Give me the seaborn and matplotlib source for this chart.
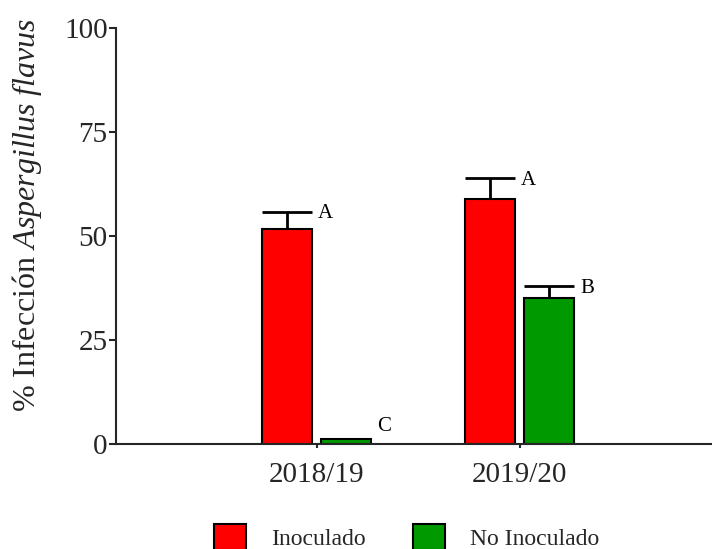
import matplotlib
matplotlib.use("Agg")
import matplotlib.pyplot as plt
import seaborn as sns
import pandas as pd

# Data
seasons = ["2018/19", "2019/20"]
treatments = ["Inoculado", "No Inoculado"]
inoculado = [51.6, 58.8]
inoculado_err = [4.2, 5.1]
no_inoculado = [1.1, 35.1]
no_inoculado_err = [0.0, 2.8]
letters_inoculado = ["A", "A"]
letters_no_inoculado = ["C", "B"]

df = pd.DataFrame({
    "Temporada": seasons * 2,
    "Tratamiento": [treatments[0]] * 2 + [treatments[1]] * 2,
    "Infeccion": inoculado + no_inoculado,
})
errs = [inoculado_err, no_inoculado_err]
letters = [letters_inoculado, letters_no_inoculado]

sns.set_style("ticks")
plt.rcParams["font.family"] = ["Liberation Serif", "DejaVu Serif"]
plt.rcParams["mathtext.fontset"] = "custom"
plt.rcParams["mathtext.rm"] = "Liberation Serif"
plt.rcParams["mathtext.it"] = "Liberation Serif:italic"

fig = plt.figure(figsize=(7.12, 5.49), dpi=100)
ax = fig.add_axes([0.1629, 0.1913, 0.8371, 0.7577])

sns.barplot(data=df, x="Temporada", y="Infeccion", hue="Tratamiento",
            hue_order=treatments, order=seasons,
            palette=["#FF0000", "#009900"], saturation=1,
            edgecolor="black", linewidth=1.5,
            width=0.58, gap=0.155, errorbar=None, ax=ax)

# Upper-only error bars (cap as wide as the bar) and significance letters
for container, err, labs in zip(ax.containers, errs, letters):
    for bar, e, lab in zip(container, err, labs):
        x0 = bar.get_x()
        w = bar.get_width()
        xc = x0 + w / 2
        top = bar.get_height()
        if e > 0:
            ax.vlines(xc, top, top + e, colors="black", linewidth=2, zorder=1)
            ax.hlines(top + e, x0, x0 + w, colors="black", linewidth=2, zorder=3)
            ly = top + e - 0.5
        else:
            ly = top + 3.1
        ax.text(x0 + w + 0.03, ly, lab, ha="left", va="center",
                fontsize=15, color="black")

ax.set_ylim(0, 100)
ax.set_xlim(-0.988, 1.948)
ax.set_yticks([0, 25, 50, 75, 100])
ax.set_xlabel("")
ax.set_ylabel("% Infección $\\mathit{Aspergillus\\ flavus}$", fontsize=23)
ax.yaxis.set_label_coords(-0.121, 0.55)

for s in ["top", "right"]:
    ax.spines[s].set_visible(False)
for s in ["left", "bottom"]:
    ax.spines[s].set_linewidth(1.5)
ax.tick_params(axis="y", labelsize=21, length=5, width=1.5, pad=1)
ax.tick_params(axis="x", labelsize=21, length=3, width=1.5, pad=10)

handles, labels = ax.get_legend_handles_labels()
ax.get_legend().remove()
fig.legend(handles, labels, loc="center", bbox_to_anchor=(0.571, 0.022),
           ncol=2, frameon=False, fontsize=17, handlelength=1.36,
           handleheight=1.36, handletextpad=1.05, columnspacing=2.0)

fig.savefig("out.png", dpi=100)
